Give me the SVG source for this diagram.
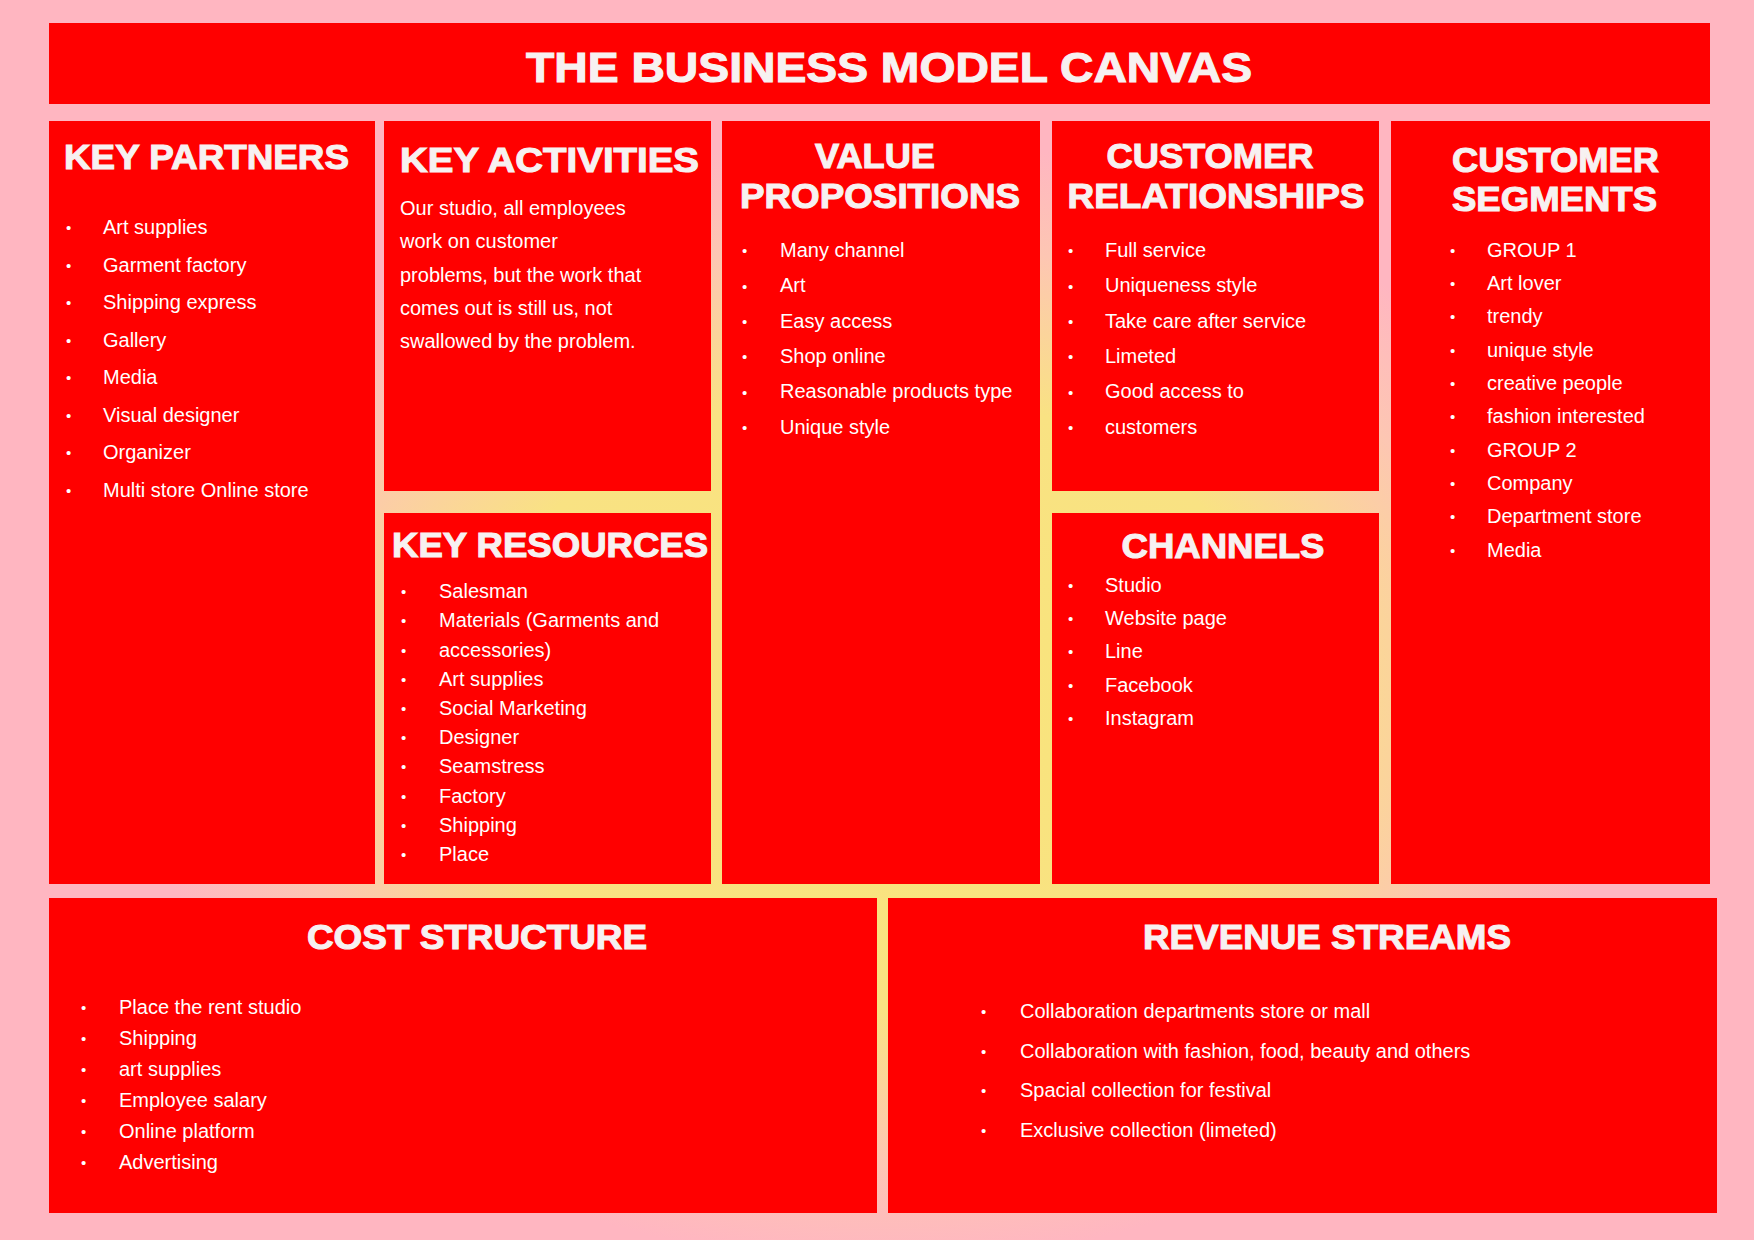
<svg xmlns="http://www.w3.org/2000/svg" width="1754" height="1240" viewBox="0 0 1754 1240">
<defs>
<radialGradient id="bg" gradientUnits="userSpaceOnUse" cx="880" cy="700" r="750" gradientTransform="translate(880 700) scale(1 0.75) translate(-880 -700)">
<stop offset="0" stop-color="#F9E47A"/>
<stop offset="0.55" stop-color="#F9E283"/>
<stop offset="0.82" stop-color="#FDC6B3"/>
<stop offset="1" stop-color="#FFB6C1"/>
</radialGradient>
<style>
.box{fill:#FF0000;}
.h{font-family:"Liberation Sans",Arial,sans-serif;font-weight:bold;fill:#F7F1F1;stroke:#F7F1F1;stroke-width:1.1px;font-size:35px;}
.t{font-family:"Liberation Sans",Arial,sans-serif;fill:#FFFFFF;font-size:20px;}
.b{font-family:"Liberation Sans",Arial,sans-serif;fill:#FFFFFF;font-size:15px;}
</style>
</defs>
<rect x="0" y="0" width="1754" height="1240" fill="#FFB6C1"/>
<rect x="0" y="0" width="1754" height="1240" fill="url(#bg)"/>

<g id="title">
<rect class="box" x="49" y="23" width="1661" height="81"/>
<text class="h" x="889" y="82" text-anchor="middle" style="font-size:43px" textLength="726" lengthAdjust="spacingAndGlyphs">THE BUSINESS MODEL CANVAS</text>
</g>

<g id="key-partners">
<rect class="box" x="49" y="121" width="326" height="763"/>
<text class="h" x="64" y="169" textLength="285" lengthAdjust="spacingAndGlyphs">KEY PARTNERS</text>
<g class="b"><text x="66" y="233">•</text><text x="66" y="271">•</text><text x="66" y="308">•</text><text x="66" y="346">•</text><text x="66" y="383">•</text><text x="66" y="421">•</text><text x="66" y="458">•</text><text x="66" y="496">•</text></g>
<text class="t" x="103" y="234">Art supplies</text>
<text class="t" x="103" y="272">Garment factory</text>
<text class="t" x="103" y="309">Shipping express</text>
<text class="t" x="103" y="347">Gallery</text>
<text class="t" x="103" y="384">Media</text>
<text class="t" x="103" y="422">Visual designer</text>
<text class="t" x="103" y="459">Organizer</text>
<text class="t" x="103" y="497">Multi store Online store</text>
</g>

<g id="key-activities">
<rect class="box" x="384" y="121" width="327" height="370"/>
<text class="h" x="400" y="172" textLength="299" lengthAdjust="spacingAndGlyphs">KEY ACTIVITIES</text>
<text class="t" x="400" y="215">Our studio, all employees</text>
<text class="t" x="400" y="248">work on customer</text>
<text class="t" x="400" y="282">problems, but the work that</text>
<text class="t" x="400" y="315">comes out is still us, not</text>
<text class="t" x="400" y="348">swallowed by the problem.</text>
</g>

<g id="key-resources">
<rect class="box" x="384" y="513" width="327" height="371"/>
<text class="h" x="392" y="557" textLength="316" lengthAdjust="spacingAndGlyphs">KEY RESOURCES</text>
<g class="b"><text x="401" y="597">•</text><text x="401" y="626">•</text><text x="401" y="656">•</text><text x="401" y="685">•</text><text x="401" y="714">•</text><text x="401" y="743">•</text><text x="401" y="772">•</text><text x="401" y="802">•</text><text x="401" y="831">•</text><text x="401" y="860">•</text></g>
<text class="t" x="439" y="598">Salesman</text>
<text class="t" x="439" y="627">Materials (Garments and</text>
<text class="t" x="439" y="657">accessories)</text>
<text class="t" x="439" y="686">Art supplies</text>
<text class="t" x="439" y="715">Social Marketing</text>
<text class="t" x="439" y="744">Designer</text>
<text class="t" x="439" y="773">Seamstress</text>
<text class="t" x="439" y="803">Factory</text>
<text class="t" x="439" y="832">Shipping</text>
<text class="t" x="439" y="861">Place</text>
</g>

<g id="value-propositions">
<rect class="box" x="722" y="121" width="318" height="763"/>
<text class="h" x="875" y="168" text-anchor="middle" textLength="120" lengthAdjust="spacingAndGlyphs">VALUE</text>
<text class="h" x="880" y="208" text-anchor="middle" textLength="280" lengthAdjust="spacingAndGlyphs">PROPOSITIONS</text>
<g class="b"><text x="742" y="256">•</text><text x="742" y="292">•</text><text x="742" y="327">•</text><text x="742" y="362">•</text><text x="742" y="398">•</text><text x="742" y="433">•</text></g>
<text class="t" x="780" y="257">Many channel</text>
<text class="t" x="780" y="292">Art</text>
<text class="t" x="780" y="328">Easy access</text>
<text class="t" x="780" y="363">Shop online</text>
<text class="t" x="780" y="398">Reasonable products type</text>
<text class="t" x="780" y="434">Unique style</text>
</g>

<g id="customer-relationships">
<rect class="box" x="1052" y="121" width="327" height="370"/>
<text class="h" x="1210" y="168" text-anchor="middle" textLength="207" lengthAdjust="spacingAndGlyphs">CUSTOMER</text>
<text class="h" x="1216" y="208" text-anchor="middle" textLength="297" lengthAdjust="spacingAndGlyphs">RELATIONSHIPS</text>
<g class="b"><text x="1068" y="256">•</text><text x="1068" y="292">•</text><text x="1068" y="327">•</text><text x="1068" y="362">•</text><text x="1068" y="398">•</text><text x="1068" y="433">•</text></g>
<text class="t" x="1105" y="257">Full service</text>
<text class="t" x="1105" y="292">Uniqueness style</text>
<text class="t" x="1105" y="328">Take care after service</text>
<text class="t" x="1105" y="363">Limeted</text>
<text class="t" x="1105" y="398">Good access to</text>
<text class="t" x="1105" y="434">customers</text>
</g>

<g id="channels">
<rect class="box" x="1052" y="513" width="327" height="371"/>
<text class="h" x="1223" y="558" text-anchor="middle" textLength="203" lengthAdjust="spacingAndGlyphs">CHANNELS</text>
<g class="b"><text x="1068" y="591">•</text><text x="1068" y="624">•</text><text x="1068" y="657">•</text><text x="1068" y="691">•</text><text x="1068" y="724">•</text></g>
<text class="t" x="1105" y="592">Studio</text>
<text class="t" x="1105" y="625">Website page</text>
<text class="t" x="1105" y="658">Line</text>
<text class="t" x="1105" y="692">Facebook</text>
<text class="t" x="1105" y="725">Instagram</text>
</g>

<g id="customer-segments">
<rect class="box" x="1391" y="121" width="319" height="763"/>
<text class="h" x="1452" y="172" textLength="207" lengthAdjust="spacingAndGlyphs">CUSTOMER</text>
<text class="h" x="1452" y="211" textLength="205" lengthAdjust="spacingAndGlyphs">SEGMENTS</text>
<g class="b"><text x="1450" y="256">•</text><text x="1450" y="289">•</text><text x="1450" y="322">•</text><text x="1450" y="356">•</text><text x="1450" y="389">•</text><text x="1450" y="422">•</text><text x="1450" y="456">•</text><text x="1450" y="489">•</text><text x="1450" y="522">•</text><text x="1450" y="556">•</text></g>
<text class="t" x="1487" y="257">GROUP 1</text>
<text class="t" x="1487" y="290">Art lover</text>
<text class="t" x="1487" y="323">trendy</text>
<text class="t" x="1487" y="357">unique style</text>
<text class="t" x="1487" y="390">creative people</text>
<text class="t" x="1487" y="423">fashion interested</text>
<text class="t" x="1487" y="457">GROUP 2</text>
<text class="t" x="1487" y="490">Company</text>
<text class="t" x="1487" y="523">Department store</text>
<text class="t" x="1487" y="557">Media</text>
</g>

<g id="cost-structure">
<rect class="box" x="49" y="898" width="828" height="315"/>
<text class="h" x="477" y="949" text-anchor="middle" textLength="340" lengthAdjust="spacingAndGlyphs">COST STRUCTURE</text>
<g class="b"><text x="81" y="1013">•</text><text x="81" y="1044">•</text><text x="81" y="1075">•</text><text x="81" y="1106">•</text><text x="81" y="1137">•</text><text x="81" y="1168">•</text></g>
<text class="t" x="119" y="1014">Place the rent studio</text>
<text class="t" x="119" y="1045">Shipping</text>
<text class="t" x="119" y="1076">art supplies</text>
<text class="t" x="119" y="1107">Employee salary</text>
<text class="t" x="119" y="1138">Online platform</text>
<text class="t" x="119" y="1169">Advertising</text>
</g>

<g id="revenue-streams">
<rect class="box" x="888" y="898" width="829" height="315"/>
<text class="h" x="1327" y="949" text-anchor="middle" textLength="368" lengthAdjust="spacingAndGlyphs">REVENUE STREAMS</text>
<g class="b"><text x="981" y="1017">•</text><text x="981" y="1057">•</text><text x="981" y="1096">•</text><text x="981" y="1136">•</text></g>
<text class="t" x="1020" y="1018">Collaboration departments store or mall</text>
<text class="t" x="1020" y="1058">Collaboration with fashion, food, beauty and others</text>
<text class="t" x="1020" y="1097">Spacial collection for festival</text>
<text class="t" x="1020" y="1137">Exclusive collection (limeted)</text>
</g>

<g id="connectors"></g>
</svg>
